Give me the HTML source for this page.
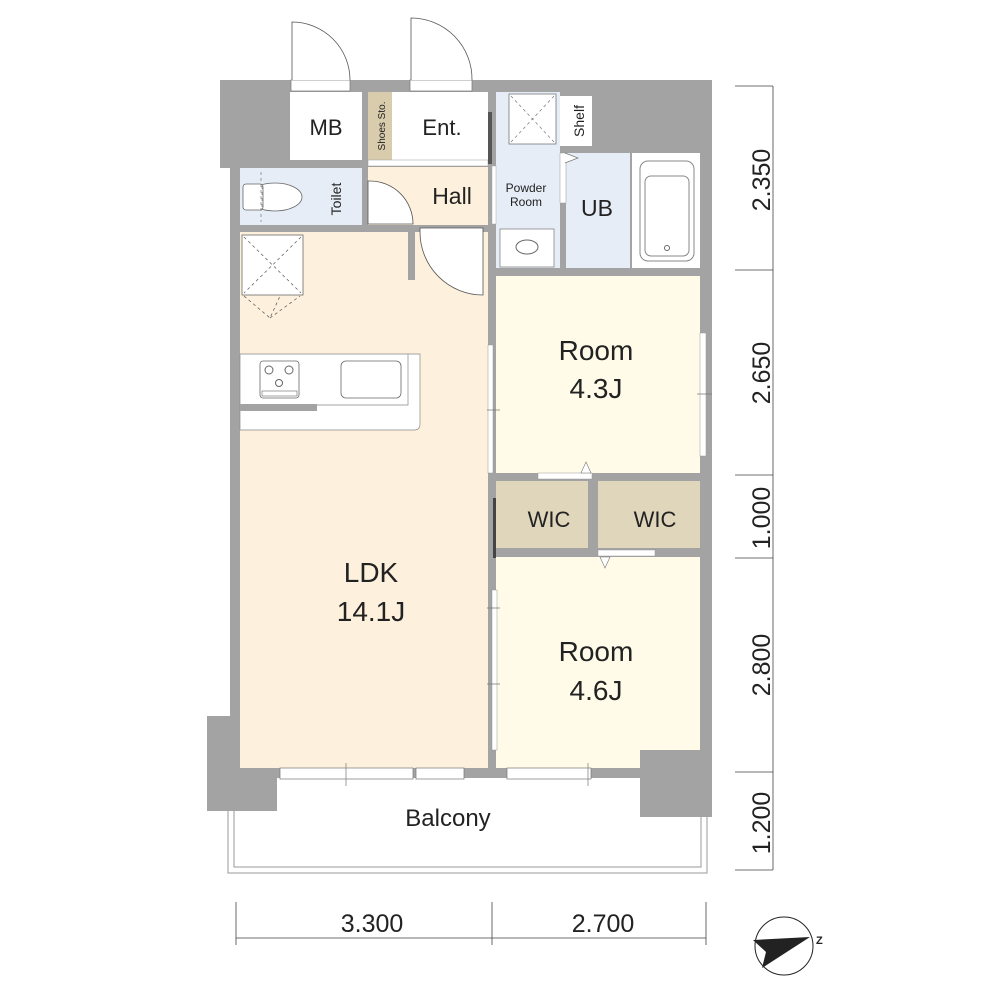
<!DOCTYPE html>
<html><head><meta charset="utf-8"><style>
html,body{margin:0;padding:0;background:#fff}
svg{display:block}
text{font-family:"Liberation Sans",sans-serif;fill:#222}
</style></head><body>
<svg width="1000" height="1000" viewBox="0 0 1000 1000" xmlns="http://www.w3.org/2000/svg">
<!-- walls base -->
<rect x="220" y="80" width="492" height="88" fill="#a3a3a3"/>
<rect x="230" y="160" width="482" height="618" fill="#a3a3a3"/>
<rect x="220" y="778" width="440" height="33" fill="#fff"/>
<!-- balcony -->
<path d="M228 811V873H707V817" fill="none" stroke="#999" stroke-width="1"/>
<path d="M234 811V867H701V817" fill="none" stroke="#999" stroke-width="1"/>
<!-- pillars -->
<rect x="207" y="716" width="70" height="95" fill="#a3a3a3"/>
<!-- rooms -->
<rect x="290" y="92" width="72" height="68" fill="#fff"/>
<rect x="368" y="92" width="24" height="68" fill="#d8ccac"/>
<rect x="392" y="92" width="96" height="68" fill="#fff"/>
<rect x="368" y="160" width="120" height="6" fill="#fff" stroke="#999" stroke-width="0.5"/>
<rect x="368" y="167" width="120" height="58" fill="#fdf0dc"/>
<rect x="240" y="168" width="122" height="57" fill="#e6edf7"/>
<rect x="496" y="92" width="64" height="176" fill="#e6edf7"/>
<rect x="566" y="153" width="64" height="115" fill="#e6edf7"/>
<rect x="632" y="153" width="68" height="115" fill="#fff"/>
<rect x="560" y="96" width="32" height="50" fill="#fff"/>
<rect x="240" y="232" width="248" height="536" fill="#fdf0dc"/>
<rect x="496" y="276" width="204" height="197" fill="#fffbe8"/>
<rect x="496" y="481" width="92" height="67" fill="#e0d6bb"/>
<rect x="598" y="481" width="102" height="67" fill="#e0d6bb"/>
<rect x="496" y="557" width="204" height="211" fill="#fffbe8"/>
<rect x="640" y="750" width="72" height="67" fill="#a3a3a3"/>
<!-- LDK wall stub -->
<rect x="408" y="232" width="7" height="48" fill="#a3a3a3"/>
<!-- fridge -->
<rect x="242" y="235" width="61" height="60" fill="#fff" stroke="#555" stroke-width="0.7"/>
<path d="M244 237L301 293M301 237L244 293M244 296L270 318L280 296M270 318L300 296" stroke="#555" stroke-width="0.7" stroke-dasharray="3 3" fill="none"/>
<!-- kitchen -->
<path d="M240 354H420V424Q420 430 414 430H240Z" fill="#fff" stroke="#888" stroke-width="0.7"/>
<path d="M240 405H408V354" fill="none" stroke="#888" stroke-width="0.7"/>
<rect x="240" y="404" width="77" height="7" fill="#a3a3a3"/>
<rect x="260" y="361" width="39" height="37" rx="3" fill="#fff" stroke="#666" stroke-width="0.8"/>
<circle cx="269" cy="370" r="4" fill="none" stroke="#666"/><circle cx="289" cy="370" r="4" fill="none" stroke="#666"/><circle cx="279" cy="383" r="3.5" fill="none" stroke="#666"/>
<rect x="262" y="391" width="35" height="5" fill="none" stroke="#666" stroke-width="0.6"/>
<rect x="341" y="361" width="60" height="37" rx="5" fill="#fff" stroke="#666" stroke-width="0.8"/>
<!-- toilet -->
<ellipse cx="275" cy="197" rx="27" ry="14" fill="#fff" stroke="#666" stroke-width="0.8"/>
<rect x="243" y="184" width="20" height="26" rx="3" fill="#fff" stroke="#666" stroke-width="0.8"/>
<path d="M262 186V208M261 172V222" stroke="#777" stroke-width="0.7" stroke-dasharray="3 3"/>
<!-- shelf / powder details -->
<rect x="509" y="94" width="47" height="50" fill="#fff" stroke="#666" stroke-width="0.7"/>
<path d="M511 96L554 142M554 96L511 142" stroke="#777" stroke-dasharray="3 3" stroke-width="0.7"/>
<rect x="500" y="229" width="54" height="38" fill="#fff" stroke="#777" stroke-width="0.7"/>
<ellipse cx="527" cy="247" rx="11" ry="7" fill="none" stroke="#666"/>
<rect x="640" y="161" width="54" height="100" rx="8" fill="none" stroke="#888"/>
<rect x="645" y="176" width="44" height="80" rx="6" fill="none" stroke="#888"/>
<circle cx="667" cy="248" r="2.5" fill="none" stroke="#666"/>
<rect x="560" y="153" width="6" height="50" fill="#fff" stroke="#999" stroke-width="0.5"/>
<path d="M565 153L578 158L565 163" fill="#fff" stroke="#777" stroke-width="0.7"/>
<rect x="488" y="112" width="4" height="52" fill="#555"/>
<rect x="492" y="166" width="4" height="58" fill="#fff" stroke="#aaa" stroke-width="0.5"/>
<!-- doors -->
<rect x="291" y="80" width="59" height="11" fill="#fff" stroke="#777" stroke-width="0.7"/>
<path d="M292 80V22A58 58 0 0 1 350 80" fill="#fff" stroke="#555" stroke-width="0.8"/>
<rect x="410" y="80" width="62" height="11" fill="#fff" stroke="#777" stroke-width="0.7"/>
<path d="M411 80V18A61 61 0 0 1 472 80" fill="#fff" stroke="#555" stroke-width="0.8"/>
<path d="M368 181V224H413A43 43 0 0 0 370 181Z" fill="#fff" stroke="#555" stroke-width="0.8"/>
<path d="M420 228H483V295A63 63 0 0 1 420 232Z" fill="#fff" stroke="#555" stroke-width="0.8"/>
<!-- sliding doors -->
<rect x="488" y="345" width="5" height="128" fill="#fff" stroke="#999" stroke-width="0.5"/>
<rect x="700" y="333" width="6" height="123" fill="#fff" stroke="#999" stroke-width="0.5"/>
<rect x="492" y="590" width="5" height="160" fill="#fff" stroke="#999" stroke-width="0.5"/>
<rect x="493" y="498" width="3" height="60" fill="#444"/>
<rect x="538" y="473" width="54" height="6" fill="#fff" stroke="#999" stroke-width="0.5"/>
<path d="M581 473L586 462L591 473Z" fill="#fff" stroke="#777" stroke-width="0.6"/>
<rect x="598" y="550" width="57" height="6" fill="#fff" stroke="#999" stroke-width="0.5"/>
<path d="M600 557L605 568L610 557Z" fill="#fff" stroke="#777" stroke-width="0.6"/>
<!-- balcony windows -->
<rect x="280" y="768" width="133" height="11" fill="#fff" stroke="#777" stroke-width="0.7"/>
<rect x="416" y="768" width="48" height="11" fill="#fff" stroke="#777" stroke-width="0.7"/>
<rect x="507" y="768" width="84" height="11" fill="#fff" stroke="#777" stroke-width="0.7"/>
<path d="M346 763V786M588 763V786M487 410H500M697 394H712M487 608H500M487 684H500" stroke="#777" stroke-width="0.7"/>
<!-- labels -->
<text x="326" y="135" font-size="22" text-anchor="middle">MB</text>
<text x="442" y="135" font-size="22" text-anchor="middle">Ent.</text>
<text transform="translate(385,126) rotate(-90)" font-size="10" text-anchor="middle">Shoes Sto.</text>
<text x="452" y="204" font-size="23" text-anchor="middle">Hall</text>
<text transform="translate(341,199) rotate(-90)" font-size="14" text-anchor="middle">Toilet</text>
<text transform="translate(584,121) rotate(-90)" font-size="14" text-anchor="middle">Shelf</text>
<text x="526" y="192" font-size="12" text-anchor="middle">Powder</text>
<text x="526" y="206" font-size="12" text-anchor="middle">Room</text>
<text x="597" y="216" font-size="23" text-anchor="middle">UB</text>
<text x="596" y="360" font-size="28" text-anchor="middle">Room</text>
<text x="596" y="398" font-size="28" text-anchor="middle">4.3J</text>
<text x="549" y="527" font-size="22" text-anchor="middle">WIC</text>
<text x="655" y="527" font-size="22" text-anchor="middle">WIC</text>
<text x="371" y="582" font-size="28" text-anchor="middle">LDK</text>
<text x="371" y="621" font-size="28" text-anchor="middle">14.1J</text>
<text x="596" y="661" font-size="28" text-anchor="middle">Room</text>
<text x="596" y="700" font-size="28" text-anchor="middle">4.6J</text>
<text x="448" y="826" font-size="24" text-anchor="middle">Balcony</text>
<!-- dimensions -->
<g stroke="#444" stroke-width="0.8">
<path d="M773 86V870"/>
<path d="M735 86H773M735 270H773M735 475H773M735 558H773M735 772H773M735 870H773"/>
<path d="M236 938H706M236 902V945M492 902V945M706 902V945"/>
</g>
<g font-size="25" text-anchor="middle">
<text transform="translate(772,180) rotate(-90)" y="-2">2.350</text>
<text transform="translate(772,373) rotate(-90)" y="-2">2.650</text>
<text transform="translate(772,518) rotate(-90)" y="-2">1.000</text>
<text transform="translate(772,665) rotate(-90)" y="-2">2.800</text>
<text transform="translate(772,823) rotate(-90)" y="-2">1.200</text>
<text x="372" y="932">3.300</text>
<text x="603" y="932">2.700</text>
</g>
<!-- compass -->
<circle cx="784" cy="946" r="29" fill="#fff" stroke="#222" stroke-width="1"/>
<path d="M753 940L810 937L762 968L766 952Z" fill="#222"/>
<text x="816" y="944" font-size="11" font-weight="bold">Z</text>
</svg>
</body></html>
